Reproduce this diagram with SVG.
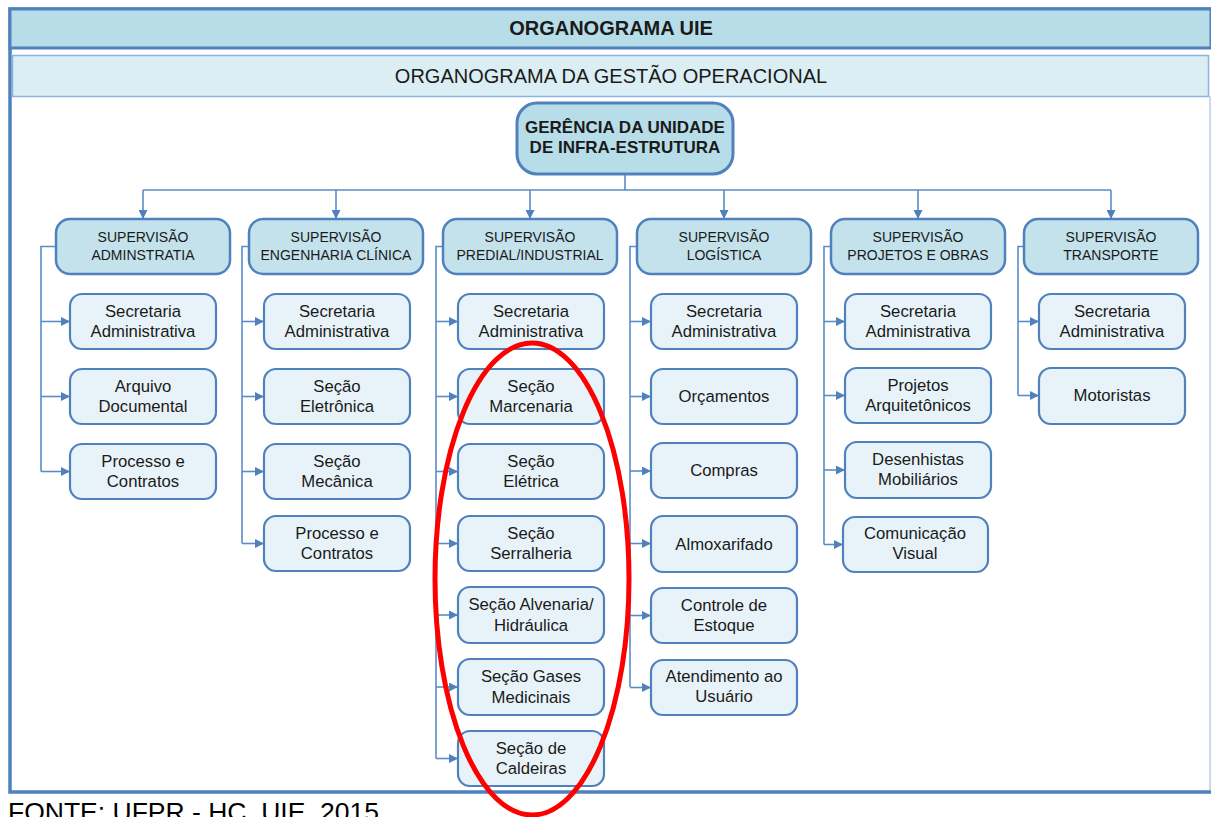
<svg xmlns="http://www.w3.org/2000/svg" width="1211" height="817" viewBox="0 0 1211 817">
<style>
text{font-family:"Liberation Sans",Arial,sans-serif;fill:#1a1a1a;text-anchor:middle}
.sup rect{fill:#c3e2ec;stroke:#4f81bd;stroke-width:2.5}
.ch rect{fill:#e8f3f9;stroke:#4f81bd;stroke-width:2.2}
.sup text{font-size:14px}
.ch text{font-size:16.7px}
.cn{fill:none;stroke:#5b8cc8;stroke-width:1.6}
.ar{fill:none;stroke:#5b8cc8;stroke-width:1.6;marker-end:url(#ah)}
</style>
<defs>
<marker id="ah" viewBox="0 0 10 10" refX="10" refY="5" markerWidth="10" markerHeight="9" orient="auto" markerUnits="userSpaceOnUse">
<path d="M0,0 L10,5 L0,10 Z" fill="#4f81bd"/>
</marker>
</defs>
<rect x="0" y="0" width="1211" height="817" fill="#ffffff"/>
<g id="frame">
<rect x="10" y="9" width="1203" height="783" fill="#ffffff" stroke="#4f81bd" stroke-width="3.5"/>
<line x1="1210" y1="96" x2="1210" y2="790" stroke="#b8cce4" stroke-width="1.5"/>
</g>
<g id="title">
<rect x="10" y="9" width="1201" height="39" fill="#b7dde8" stroke="#4f81bd" stroke-width="3"/>
<text x="611" y="35" font-size="20" font-weight="bold">ORGANOGRAMA UIE</text>
</g>
<g id="subtitle">
<rect x="12.5" y="55.5" width="1196" height="41" fill="#daeef3" stroke="#8db3e2" stroke-width="1.5"/>
<text x="611" y="83" font-size="20">ORGANOGRAMA DA GESTÃO OPERACIONAL</text>
</g>
<g id="connectors">
<path class="cn" d="M625,174 V190 M143,190 H1111"/>
<path class="ar" d="M143,190 V219"/>
<path class="ar" d="M336,190 V219"/>
<path class="ar" d="M530,190 V219"/>
<path class="ar" d="M724,190 V219"/>
<path class="ar" d="M918,190 V219"/>
<path class="ar" d="M1111,190 V219"/>
<path class="cn" d="M56,246.5 H41 V471.5"/>
<path class="ar" d="M41,321.5 H70"/><path class="ar" d="M41,396.5 H70"/><path class="ar" d="M41,471.5 H70"/>
<path class="cn" d="M249,246.5 H242 V543.5"/>
<path class="ar" d="M242,321.5 H264"/><path class="ar" d="M242,396.5 H264"/><path class="ar" d="M242,471.5 H264"/><path class="ar" d="M242,543.5 H264"/>
<path class="cn" d="M443,246.5 H436 V758.5"/>
<path class="ar" d="M436,321.5 H458"/><path class="ar" d="M436,396.5 H458"/><path class="ar" d="M436,471.5 H458"/><path class="ar" d="M436,543.5 H458"/><path class="ar" d="M436,615 H458"/><path class="ar" d="M436,687 H458"/><path class="ar" d="M436,758.5 H458"/>
<path class="cn" d="M637,246.5 H630 V687"/>
<path class="ar" d="M630,321.5 H651"/><path class="ar" d="M630,396.5 H651"/><path class="ar" d="M630,471 H651"/><path class="ar" d="M630,543.5 H651"/><path class="ar" d="M630,615.5 H651"/><path class="ar" d="M630,687.5 H651"/>
<path class="cn" d="M831,246.5 H824 V544.5"/>
<path class="ar" d="M824,321.5 H845"/><path class="ar" d="M824,395.5 H845"/><path class="ar" d="M824,470 H845"/><path class="ar" d="M824,544.5 H843"/>
<path class="cn" d="M1024,246.5 H1018 V395.5"/>
<path class="ar" d="M1018,321.5 H1039"/><path class="ar" d="M1018,395.5 H1039"/>
</g>
<g id="gerencia">
<rect x="517" y="103" width="216" height="71" rx="20" fill="#b7dde8" stroke="#4f81bd" stroke-width="3"/>
<text x="625" y="133" font-size="17" font-weight="bold">GERÊNCIA DA UNIDADE</text>
<text x="625" y="153" font-size="17" font-weight="bold">DE INFRA-ESTRUTURA</text>
</g>
<g id="sup-adm" class="sup"><rect x="56" y="219" width="174" height="55" rx="14"/><text x="143" y="242">SUPERVISÃO</text><text x="143" y="260">ADMINSTRATIA</text></g>
<g id="sup-eng" class="sup"><rect x="249" y="219" width="174" height="55" rx="14"/><text x="336" y="242">SUPERVISÃO</text><text x="336" y="260">ENGENHARIA CLÍNICA</text></g>
<g id="sup-pred" class="sup"><rect x="443" y="219" width="174" height="55" rx="14"/><text x="530" y="242">SUPERVISÃO</text><text x="530" y="260">PREDIAL/INDUSTRIAL</text></g>
<g id="sup-log" class="sup"><rect x="637" y="219" width="174" height="55" rx="14"/><text x="724" y="242">SUPERVISÃO</text><text x="724" y="260">LOGÍSTICA</text></g>
<g id="sup-proj" class="sup"><rect x="831" y="219" width="174" height="55" rx="14"/><text x="918" y="242">SUPERVISÃO</text><text x="918" y="260">PROJETOS E OBRAS</text></g>
<g id="sup-trans" class="sup"><rect x="1024" y="219" width="174" height="55" rx="14"/><text x="1111" y="242">SUPERVISÃO</text><text x="1111" y="260">TRANSPORTE</text></g>

<g id="adm-sec" class="ch"><rect x="70" y="294" width="146" height="55" rx="12"/><text x="143" y="317">Secretaria</text><text x="143" y="337">Administrativa</text></g>
<g id="adm-arq" class="ch"><rect x="70" y="369" width="146" height="55" rx="12"/><text x="143" y="392">Arquivo</text><text x="143" y="412">Documental</text></g>
<g id="adm-proc" class="ch"><rect x="70" y="444" width="146" height="55" rx="12"/><text x="143" y="467">Processo e</text><text x="143" y="487">Contratos</text></g>

<g id="eng-sec" class="ch"><rect x="264" y="294" width="146" height="55" rx="12"/><text x="337" y="317">Secretaria</text><text x="337" y="337">Administrativa</text></g>
<g id="eng-ele" class="ch"><rect x="264" y="369" width="146" height="55" rx="12"/><text x="337" y="392">Seção</text><text x="337" y="412">Eletrônica</text></g>
<g id="eng-mec" class="ch"><rect x="264" y="444" width="146" height="55" rx="12"/><text x="337" y="467">Seção</text><text x="337" y="487">Mecânica</text></g>
<g id="eng-proc" class="ch"><rect x="264" y="516" width="146" height="55" rx="12"/><text x="337" y="539">Processo e</text><text x="337" y="559">Contratos</text></g>

<g id="pred-sec" class="ch"><rect x="458" y="294" width="146" height="55" rx="12"/><text x="531" y="317">Secretaria</text><text x="531" y="337">Administrativa</text></g>
<g id="pred-marc" class="ch"><rect x="458" y="369" width="146" height="55" rx="12"/><text x="531" y="392">Seção</text><text x="531" y="412">Marcenaria</text></g>
<g id="pred-elet" class="ch"><rect x="458" y="444" width="146" height="55" rx="12"/><text x="531" y="467">Seção</text><text x="531" y="487">Elétrica</text></g>
<g id="pred-serr" class="ch"><rect x="458" y="516" width="146" height="55" rx="12"/><text x="531" y="539">Seção</text><text x="531" y="559">Serralheria</text></g>
<g id="pred-alv" class="ch"><rect x="458" y="587" width="146" height="56" rx="12"/><text x="531" y="610">Seção Alvenaria/</text><text x="531" y="631">Hidráulica</text></g>
<g id="pred-gas" class="ch"><rect x="458" y="659" width="146" height="56" rx="12"/><text x="531" y="682">Seção Gases</text><text x="531" y="703">Medicinais</text></g>
<g id="pred-cald" class="ch"><rect x="458" y="731" width="146" height="55" rx="12"/><text x="531" y="754">Seção de</text><text x="531" y="774">Caldeiras</text></g>

<g id="log-sec" class="ch"><rect x="651" y="294" width="146" height="55" rx="12"/><text x="724" y="317">Secretaria</text><text x="724" y="337">Administrativa</text></g>
<g id="log-orc" class="ch"><rect x="651" y="369" width="146" height="55" rx="12"/><text x="724" y="402">Orçamentos</text></g>
<g id="log-comp" class="ch"><rect x="651" y="443" width="146" height="55" rx="12"/><text x="724" y="476">Compras</text></g>
<g id="log-alm" class="ch"><rect x="651" y="516" width="146" height="56" rx="12"/><text x="724" y="550">Almoxarifado</text></g>
<g id="log-est" class="ch"><rect x="651" y="588" width="146" height="55" rx="12"/><text x="724" y="611">Controle de</text><text x="724" y="631">Estoque</text></g>
<g id="log-atend" class="ch"><rect x="651" y="660" width="146" height="55" rx="12"/><text x="724" y="682">Atendimento ao</text><text x="724" y="702">Usuário</text></g>

<g id="proj-sec" class="ch"><rect x="845" y="294" width="146" height="55" rx="12"/><text x="918" y="317">Secretaria</text><text x="918" y="337">Administrativa</text></g>
<g id="proj-arq" class="ch"><rect x="845" y="368" width="146" height="55" rx="12"/><text x="918" y="391">Projetos</text><text x="918" y="411">Arquitetônicos</text></g>
<g id="proj-des" class="ch"><rect x="845" y="442" width="146" height="56" rx="12"/><text x="918" y="465">Desenhistas</text><text x="918" y="485">Mobiliários</text></g>
<g id="proj-com" class="ch"><rect x="843" y="517" width="145" height="55" rx="12"/><text x="915" y="539">Comunicação</text><text x="915" y="559">Visual</text></g>

<g id="trans-sec" class="ch"><rect x="1039" y="294" width="146" height="55" rx="12"/><text x="1112" y="317">Secretaria</text><text x="1112" y="337">Administrativa</text></g>
<g id="trans-mot" class="ch"><rect x="1039" y="368" width="146" height="56" rx="12"/><text x="1112" y="401">Motoristas</text></g>

<ellipse id="highlight" cx="532" cy="579" rx="97" ry="236" fill="none" stroke="#ff0000" stroke-width="5"/>
<text x="8" y="821" font-size="26.5" style="text-anchor:start;fill:#000000">FONTE: UFPR - HC, UIE, 2015</text>
</svg>
